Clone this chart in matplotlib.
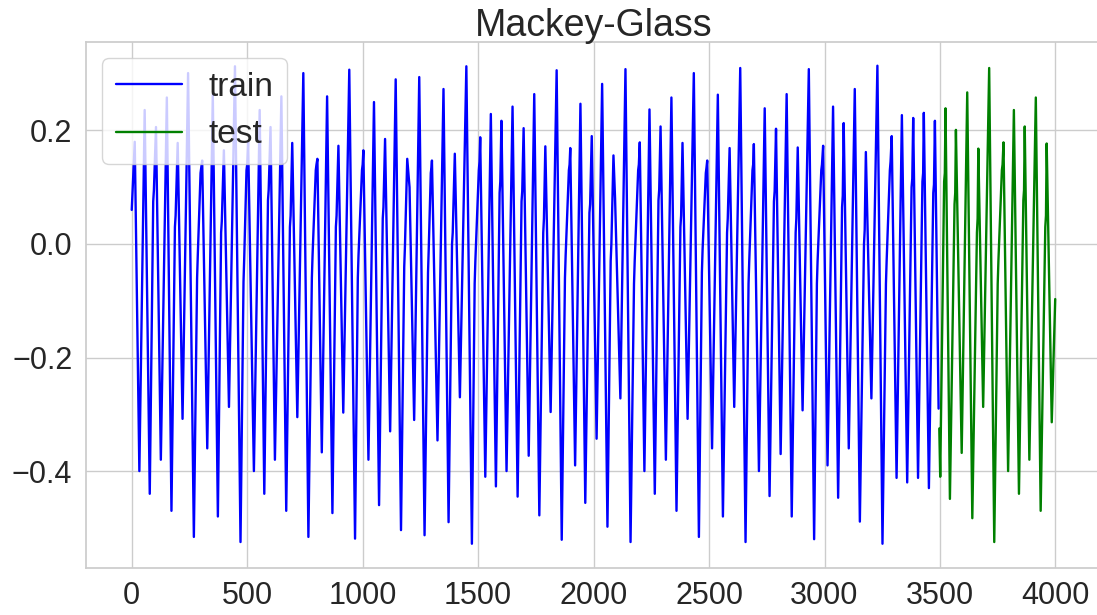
import numpy as np
import matplotlib
matplotlib.use('Agg')
import matplotlib.pyplot as plt
import seaborn as sns

''' vertices of the series read off the chart (time step, value) '''
train_x = [0, 13, 33, 56, 78, 93, 96, 105, 126, 152, 172, 187, 190, 199, 220, 244, 269,
           283, 286, 298, 301, 305, 327, 351, 373, 387, 390, 399, 421, 447, 471,
           484, 487, 497, 500, 504, 529, 554, 574, 590, 593, 601, 620, 648, 669,
           685, 688, 695, 717, 743, 765, 780, 783, 797, 800, 804, 823, 846, 869,
           884, 887, 895, 916, 942, 967, 979, 982, 997, 1000, 1003, 1025, 1049, 1071,
           1087, 1090, 1097, 1119, 1143, 1166, 1180, 1183, 1193, 1203, 1223, 1245, 1268,
           1283, 1286, 1295, 1298, 1300, 1324, 1350, 1372, 1387, 1390, 1399, 1421, 1449, 1473,
           1485, 1488, 1503, 1506, 1509, 1531, 1555, 1577, 1593, 1596, 1601, 1623, 1649, 1671,
           1688, 1691, 1697, 1719, 1743, 1765, 1782, 1785, 1791, 1814, 1840, 1862,
           1876, 1879, 1893, 1896, 1899, 1920, 1943, 1964, 1982, 1985, 1992, 2013, 2037, 2060,
           2074, 2077, 2086, 2093, 2116, 2138, 2160, 2175, 2178, 2193, 2196, 2200, 2220, 2242, 2265,
           2281, 2284, 2290, 2313, 2337, 2359, 2376, 2379, 2385, 2407, 2434, 2456,
           2469, 2472, 2486, 2489, 2492, 2513, 2538, 2560, 2578, 2581, 2589, 2609, 2635, 2658,
           2671, 2674, 2688, 2691, 2694, 2716, 2741, 2762, 2781, 2784, 2790, 2810, 2836, 2858,
           2875, 2878, 2884, 2905, 2932, 2955, 2967, 2970, 2986, 2989, 2994, 3013, 3037, 3059,
           3076, 3079, 3083, 3105, 3131, 3153, 3171, 3174, 3179, 3203, 3229, 3251,
           3266, 3269, 3283, 3286, 3291, 3312, 3335, 3358, 3377, 3380, 3384, 3405,
           3424, 3427, 3430, 3452, 3471, 3474, 3478, 3494]
train_y = [0.06, 0.18, -0.40, 0.236, -0.44, 0.075, 0.095, 0.206, -0.38, 0.258, -0.47, 0.03, 0.05, 0.178, -0.308, 0.301, -0.516,
           -0.06, -0.02, 0.125, 0.135, 0.147, -0.36, 0.263, -0.48, 0.02, 0.04, 0.165, -0.287, 0.313, -0.525,
           -0.067, -0.026, 0.13, 0.14, 0.18, -0.40, 0.236, -0.44, 0.077, 0.095, 0.206, -0.38, 0.26, -0.47,
           0.03, 0.05, 0.178, -0.305, 0.301, -0.516, -0.06, -0.02, 0.13, 0.14, 0.15, -0.367, 0.26, -0.474,
           0.03, 0.05, 0.173, -0.297, 0.307, -0.519, -0.06, -0.02, 0.13, 0.14, 0.165, -0.38, 0.25, -0.46,
           0.045, 0.065, 0.185, -0.33, 0.29, -0.504, -0.04, -0.005, 0.15, 0.10, -0.31, 0.294, -0.513,
           -0.05, -0.01, 0.125, 0.135, 0.147, -0.346, 0.273, -0.49, 0.0, 0.02, 0.159, -0.27, 0.313, -0.528,
           -0.07, -0.03, 0.13, 0.145, 0.188, -0.41, 0.229, -0.427, 0.09, 0.11, 0.217, -0.40, 0.242, -0.445,
           0.075, 0.093, 0.204, -0.373, 0.264, -0.478, 0.02, 0.045, 0.172, -0.296, 0.306, -0.521,
           -0.06, -0.02, 0.13, 0.14, 0.169, -0.39, 0.247, -0.456, 0.055, 0.07, 0.19, -0.343, 0.282, -0.498,
           -0.03, 0.0, 0.156, 0.08, -0.272, 0.308, -0.525, -0.07, -0.03, 0.13, 0.14, 0.179, -0.40, 0.237, -0.44,
           0.077, 0.095, 0.207, -0.38, 0.258, -0.47, 0.03, 0.05, 0.178, -0.308, 0.301, -0.516,
           -0.05, -0.01, 0.125, 0.135, 0.147, -0.36, 0.263, -0.48, 0.02, 0.045, 0.169, -0.287, 0.31, -0.525,
           -0.07, -0.03, 0.13, 0.14, 0.176, -0.40, 0.239, -0.444, 0.075, 0.093, 0.203, -0.37, 0.264, -0.48,
           0.02, 0.045, 0.17, -0.293, 0.308, -0.52, -0.07, -0.03, 0.13, 0.14, 0.173, -0.39, 0.242, -0.447,
           0.065, 0.085, 0.213, -0.36, 0.273, -0.489, 0.0, 0.025, 0.162, -0.272, 0.314, -0.528,
           -0.07, -0.03, 0.13, 0.145, 0.19, -0.412, 0.227, -0.42, 0.10, 0.115, 0.222, -0.412,
           0.11, 0.125, 0.231, -0.43, 0.09, 0.105, 0.217, -0.29]

test_x = [3497, 3501, 3518, 3521, 3524, 3543, 3563, 3566, 3569, 3594, 3618, 3640,
          3660, 3663, 3666, 3687, 3713, 3735, 3750, 3753, 3768, 3771, 3775, 3795,
          3820, 3842, 3861, 3864, 3867, 3887, 3915, 3936, 3956, 3959, 3962, 3984, 3999]
test_y = [-0.325, -0.41, 0.11, 0.125, 0.239, -0.449, 0.07, 0.09, 0.201, -0.368, 0.267, -0.483,
          0.02, 0.045, 0.168, -0.287, 0.31, -0.525, -0.07, -0.03, 0.13, 0.14, 0.179, -0.40,
          0.236, -0.44, 0.077, 0.095, 0.207, -0.38, 0.258, -0.47, 0.03, 0.05, 0.177, -0.314, -0.097]

sns.set_theme(style='whitegrid', font_scale=2)
plt.rcParams['font.family'] = ['Liberation Sans', 'DejaVu Sans']

fig, ax = plt.subplots(figsize=(10.97, 6.15), dpi=100)
ax.plot(train_x, train_y, color='blue', lw=1.7, label='train')
ax.plot(test_x, test_y, color='green', lw=1.7, label='test')
ax.set_title('Mackey-Glass', fontsize=27, pad=4)
ax.set_xticks(np.arange(0, 4001, 500))
ax.set_yticks([-0.4, -0.2, 0.0, 0.2])
ax.legend(loc='upper left', fontsize=24)
# the right spine falls just outside the saved picture, as in the original
fig.subplots_adjust(left=0.078, right=1.004, top=0.932, bottom=0.077)
fig.savefig('out.png')
